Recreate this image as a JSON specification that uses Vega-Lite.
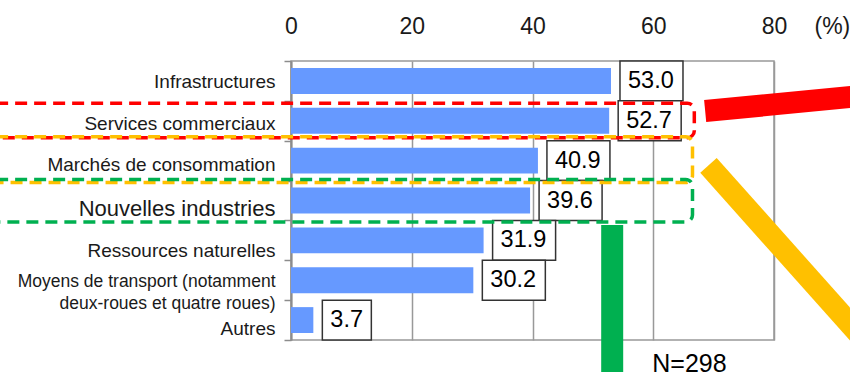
{
  "$schema": "https://vega.github.io/schema/vega-lite/v6.json",
  "width": 483,
  "height": 279,
  "autosize": {"type": "none"},
  "padding": {"left": 291, "top": 61, "right": 76, "bottom": 32},
  "background": "white",
  "config": {
    "font": "Liberation Sans",
    "view": {"stroke": "#999999", "strokeWidth": 1.5}
  },
  "datasets": {
    "survey": [
      {"cat": "Infrastructures", "pct": 53.0},
      {"cat": "Services commerciaux", "pct": 52.7},
      {"cat": "Marchés de consommation", "pct": 40.9},
      {"cat": "Nouvelles industries", "pct": 39.6},
      {"cat": "Ressources naturelles", "pct": 31.9},
      {"cat": "Moyens de transport (notamment deux-roues et quatre roues)", "pct": 30.2},
      {"cat": "Autres", "pct": 3.7}
    ],
    "frames": [
      {"group": "Services commerciaux", "x1": -50, "x2": 66.8, "y1": 1.06, "y2": 1.924},
      {"group": "Marchés de consommation", "x1": -50, "x2": 66.5, "y1": 1.9, "y2": 3.05},
      {"group": "Nouvelles industries", "x1": -50, "x2": 66.5, "y1": 2.97, "y2": 4.04}
    ],
    "arrows": [
      {"group": "Services commerciaux", "x1": 68.6, "x2": 95, "y1": 1.254, "y2": 0.87},
      {"group": "Marchés de consommation", "x1": 69.15, "x2": 95.9, "y1": 2.62, "y2": 7.16},
      {"group": "Nouvelles industries", "x1": 53.2, "x2": 53.2, "y1": 4.115, "y2": 8.2}
    ]
  },
  "layer": [
    {
      "data": {"name": "survey"},
      "encoding": {
        "y": {
          "field": "cat",
          "type": "nominal",
          "sort": null,
          "scale": {"paddingInner": 0, "paddingOuter": 0},
          "axis": {
            "title": null,
            "orient": "left",
            "domainColor": "#8c8c8c",
            "domainWidth": 2,
            "tickColor": "#8c8c8c",
            "tickWidth": 1.5,
            "tickSize": 7,
            "tickBand": "extent",
            "labelPadding": 9,
            "labelFont": "Liberation Sans",
            "labelColor": "#1a1a1a",
            "labelLimit": 400,
            "labelLineHeight": 22,
            "labelExpr": "datum.value == 'Moyens de transport (notamment deux-roues et quatre roues)' ? ['Moyens de transport (notamment', 'deux-roues et quatre roues)'] : datum.label",
            "labelFontSize": {
              "condition": [
                {"test": "datum.value == 'Nouvelles industries'", "value": 22},
                {"test": "datum.value == 'Moyens de transport (notamment deux-roues et quatre roues)'", "value": 17.5}
              ],
              "value": 19
            },
            "labelOffset": {
              "condition": [
                {"test": "datum.value == 'Infrastructures'", "value": 1},
                {"test": "datum.value == 'Services commerciaux'", "value": 3},
                {"test": "datum.value == 'Marchés de consommation'", "value": 4},
                {"test": "datum.value == 'Nouvelles industries'", "value": 8},
                {"test": "datum.value == 'Ressources naturelles'", "value": 10},
                {"test": "datum.value == 'Autres'", "value": 8}
              ],
              "value": 1
            }
          }
        },
        "x": {
          "field": "pct",
          "type": "quantitative",
          "scale": {"domain": [0, 80], "nice": false, "zero": true},
          "axis": {
            "orient": "top",
            "values": [0, 20, 40, 60, 80],
            "grid": true,
            "gridColor": "#999999",
            "gridWidth": 1.5,
            "domain": false,
            "ticks": false,
            "tickSize": 0,
            "labelFontSize": 23,
            "labelColor": "#1a1a1a",
            "labelPadding": 28,
            "labelBaseline": "alphabetic",
            "labelFlush": false,
            "title": "(%)",
            "titleFontSize": 23,
            "titleFontWeight": "normal",
            "titleColor": "#1a1a1a",
            "titleX": 523,
            "titleY": -28,
            "titleAlign": "left",
            "titleBaseline": "alphabetic",
            "titleAngle": 0
          }
        }
      },
      "layer": [
        {"mark": {"type": "bar", "color": "#6699ff", "height": {"band": 0.65}}},
        {
          "transform": [{"filter": "datum.pct >= 10"}],
          "mark": {"type": "bar", "fill": "white", "stroke": "#333333", "strokeWidth": 1.5, "xOffset": 9, "x2Offset": 72, "height": {"band": 1}},
          "encoding": {"x2": {"field": "pct"}}
        },
        {
          "transform": [{"filter": "datum.pct < 10"}],
          "mark": {"type": "bar", "fill": "white", "stroke": "#333333", "strokeWidth": 1.5, "xOffset": 9, "x2Offset": 58, "height": {"band": 1}},
          "encoding": {"x2": {"field": "pct"}}
        },
        {
          "mark": {"type": "text", "align": "left", "baseline": "middle", "dx": 17, "fontSize": 23.5, "color": "#000000"},
          "encoding": {"text": {"field": "pct", "type": "quantitative", "format": ".1f"}}
        }
      ]
    },
    {
      "layer": [
        {
          "data": {"name": "frames"},
          "mark": {"type": "rect", "filled": false, "strokeWidth": 3.5, "strokeDash": [12, 7], "cornerRadius": 7},
          "encoding": {
            "x": {"field": "x1", "type": "quantitative", "scale": {"domain": [0, 80], "nice": false}, "axis": null},
            "x2": {"field": "x2"},
            "y": {"field": "y1", "type": "quantitative", "scale": {"domain": [0, 7], "reverse": true, "nice": false, "zero": false}, "axis": null},
            "y2": {"field": "y2"},
            "color": {
              "field": "group",
              "type": "nominal",
              "scale": {"domain": ["Services commerciaux", "Marchés de consommation", "Nouvelles industries"], "range": ["#ff0000", "#ffc000", "#00b050"]},
              "legend": null
            }
          }
        },
        {
          "data": {"name": "arrows"},
          "mark": {"type": "rule", "strokeWidth": 22, "strokeCap": "butt"},
          "encoding": {
            "x": {"field": "x1", "type": "quantitative", "scale": {"domain": [0, 80], "nice": false}, "axis": null},
            "x2": {"field": "x2"},
            "y": {"field": "y1", "type": "quantitative", "scale": {"domain": [0, 7], "reverse": true, "nice": false, "zero": false}, "axis": null},
            "y2": {"field": "y2"},
            "color": {
              "field": "group",
              "type": "nominal",
              "scale": {"domain": ["Services commerciaux", "Marchés de consommation", "Nouvelles industries"], "range": ["#ff0000", "#ffc000", "#00b050"]},
              "legend": null
            }
          }
        },
        {
          "data": {"values": [{"note": "N=298"}]},
          "mark": {"type": "text", "align": "left", "baseline": "middle", "fontSize": 25, "color": "#000000", "dx": -1},
          "encoding": {
            "x": {"datum": 60, "type": "quantitative", "scale": {"domain": [0, 80], "nice": false}, "axis": null},
            "y": {"datum": 7.6, "type": "quantitative", "scale": {"domain": [0, 7], "reverse": true, "nice": false, "zero": false}, "axis": null},
            "text": {"field": "note"}
          }
        }
      ]
    }
  ],
  "resolve": {"scale": {"y": "independent", "x": "shared"}, "axis": {"x": "independent"}}
}
